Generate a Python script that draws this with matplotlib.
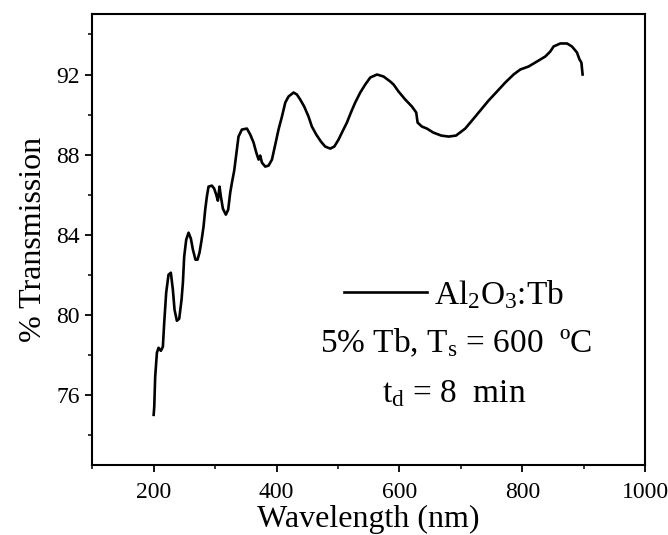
import matplotlib
matplotlib.use("Agg")
import matplotlib.pyplot as plt
from matplotlib.ticker import MultipleLocator

# transmission spectrum
wavelength = [200, 201, 202.5, 205.3, 208, 211.8, 215, 217.2, 220.4, 224.2,
              228, 231.3, 234, 237.8, 241.6, 245.4, 247.6, 249.7, 253, 256.8,
              260.6, 263.9, 268.1, 271.4, 274.6, 277.9, 281.2, 283.9, 286.6, 289.3,
              294.8, 298.5, 301.8, 304.5, 307.2, 309.4, 312.7, 317.5, 321.3, 324.6,
              327.4, 331.1, 334.4, 338.1, 343.6, 351.8, 357.2, 362.6, 367, 370.8,
              373.4, 376.2, 381.6, 387, 392.5, 397.9, 403.2, 408.8, 414.2, 419.5,
              427.7, 433.1, 438.5, 445, 452, 457.5, 464.6, 472.2, 479.2, 487.4,
              493.9, 500.9, 508, 514.5, 521, 528, 536.2, 544.3, 552.5, 563.4,
              574.1, 585, 590.4, 598.5, 609.4, 620.3, 627.3, 629.5, 636.5, 644.6,
              655, 668, 680, 692, 707, 718, 731.5, 745, 758.7, 772.2,
              785.7, 796.6, 810.1, 823.8, 837.3, 845.4, 850.8, 861.7, 872.6, 880.7,
              888.8, 893, 896, 898]
transmission = [75.0, 75.4, 76.9, 78.1, 78.35, 78.2, 78.4, 79.6, 81.1, 82.0,
                82.1, 81.25, 80.25, 79.7, 79.8, 80.75, 81.6, 82.9, 83.75, 84.1,
                83.8, 83.25, 82.75, 82.75, 83.1, 83.7, 84.4, 85.25, 85.9, 86.4,
                86.45, 86.3, 86.0, 85.7, 86.4, 85.9, 85.3, 85.0, 85.25, 86.1,
                86.6, 87.2, 88.0, 88.9, 89.25, 89.3, 89.0, 88.6, 88.1, 87.75,
                87.95, 87.6, 87.4, 87.45, 87.75, 88.5, 89.25, 89.9, 90.6, 90.9,
                91.1, 91.0, 90.75, 90.4, 89.9, 89.4, 89.0, 88.65, 88.4, 88.3,
                88.4, 88.75, 89.2, 89.6, 90.1, 90.6, 91.1, 91.5, 91.85, 92.0,
                91.9, 91.65, 91.5, 91.15, 90.75, 90.4, 90.1, 89.6, 89.4, 89.3,
                89.1, 88.95, 88.9, 88.95, 89.3, 89.7, 90.2, 90.7, 91.15, 91.6,
                92.0, 92.25, 92.4, 92.65, 92.9, 93.15, 93.4, 93.55, 93.55, 93.4,
                93.1, 92.75, 92.6, 92.0]

sample_label = r"Al$_2$O$_3$:Tb"
info_lines = [r"5% Tb, T$_\mathrm{s}$ = 600  ºC", r"t$_\mathrm{d}$ = 8  min"]

plt.rcParams["font.family"] = ["Liberation Serif", "DejaVu Serif"]
plt.rcParams["mathtext.fontset"] = "custom"
plt.rcParams["mathtext.rm"] = "Liberation Serif"
plt.rcParams["mathtext.it"] = "Liberation Serif:italic"

fig = plt.figure(figsize=(6.68, 5.35), dpi=100)
ax = fig.add_axes([0.138, 0.131, 0.828, 0.842])

ax.plot(wavelength, transmission, color="black", lw=1.9, label=sample_label)

ax.set_xlim(100, 1000)
ax.set_ylim(72.5, 95)
ax.xaxis.set_major_locator(MultipleLocator(200))
ax.xaxis.set_minor_locator(MultipleLocator(100))
ax.yaxis.set_major_locator(MultipleLocator(4))
ax.yaxis.set_minor_locator(MultipleLocator(2))
ax.set_xticks([200, 400, 600, 800, 1000])

for s in ax.spines.values():
    s.set_linewidth(1.5)
ax.tick_params(which="major", direction="out", length=5, width=1.3,
               labelsize=17, pad=4, top=False, right=False)
ax.tick_params(which="minor", direction="out", length=3, width=1.1,
               top=False, right=False)
ax.tick_params(axis="x", which="major", pad=7)

ax.set_xlabel("Wavelength (nm)", fontsize=23, labelpad=2)
ax.set_ylabel("% Transmission", fontsize=23, labelpad=6)

ax.legend(loc="center left", bbox_to_anchor=(0.455, 0.378), frameon=False,
          fontsize=24, handlelength=2.5, handletextpad=0.2,
          borderpad=0, borderaxespad=0)
ax.text(0.657, 0.27, info_lines[0], transform=ax.transAxes, fontsize=24,
        ha="center", va="center")
ax.text(0.655, 0.158, info_lines[1], transform=ax.transAxes, fontsize=24,
        ha="center", va="center")

fig.savefig("out.png", dpi=100)
